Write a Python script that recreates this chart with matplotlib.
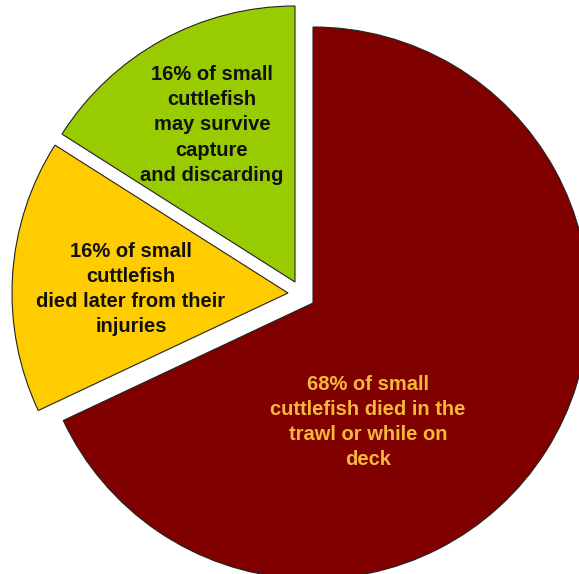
import matplotlib
matplotlib.use("Agg")
import matplotlib.pyplot as plt

# slice shares, clockwise from 12 o'clock
shares = [68, 16, 16]
labels = [
    "68% of small\ncuttlefish died in the\ntrawl or while on\ndeck",
    "16% of small\ncuttlefish\ndied later from their\ninjuries",
    "16% of small\ncuttlefish\nmay survive\ncapture\nand discarding",
]
colors = ["#800000", "#FFCC00", "#99CC00"]
text_colors = ["#F6B83A", "#111111", "#111111"]

# pixel-based layout (figure is 579x574 px)
W, H = 579, 574
cx, cy = 313, H - 303
R = 276
# offsets of the pulled-out slices, in pixels (dx, dy up)
shifts = [(0, 0), (-25, 10), (-18, 21)]
label_pos = [(368, H - 422), (131, H - 289), (212, H - 125)]

fig = plt.figure(figsize=(W / 100, H / 100), dpi=100)
ax = fig.add_axes([0, 0, 1, 1])

wedges, _ = ax.pie(shares, colors=colors, startangle=90, counterclock=False,
                   radius=R, center=(cx, cy),
                   wedgeprops=dict(edgecolor="#222222", linewidth=0.8))
for w, (dx, dy) in zip(wedges, shifts):
    w.set_center((cx + dx, cy + dy))

for txt, (x, y), c in zip(labels, label_pos, text_colors):
    ax.text(x, y, txt, ha="center", va="center", color=c,
            fontsize=14.5, fontweight="bold", family="Liberation Sans",
            linespacing=1.42)

ax.set_xlim(0, W)
ax.set_ylim(0, H)
ax.set_aspect("auto")
ax.axis("off")

fig.savefig("out.png", dpi=100, facecolor="white")
